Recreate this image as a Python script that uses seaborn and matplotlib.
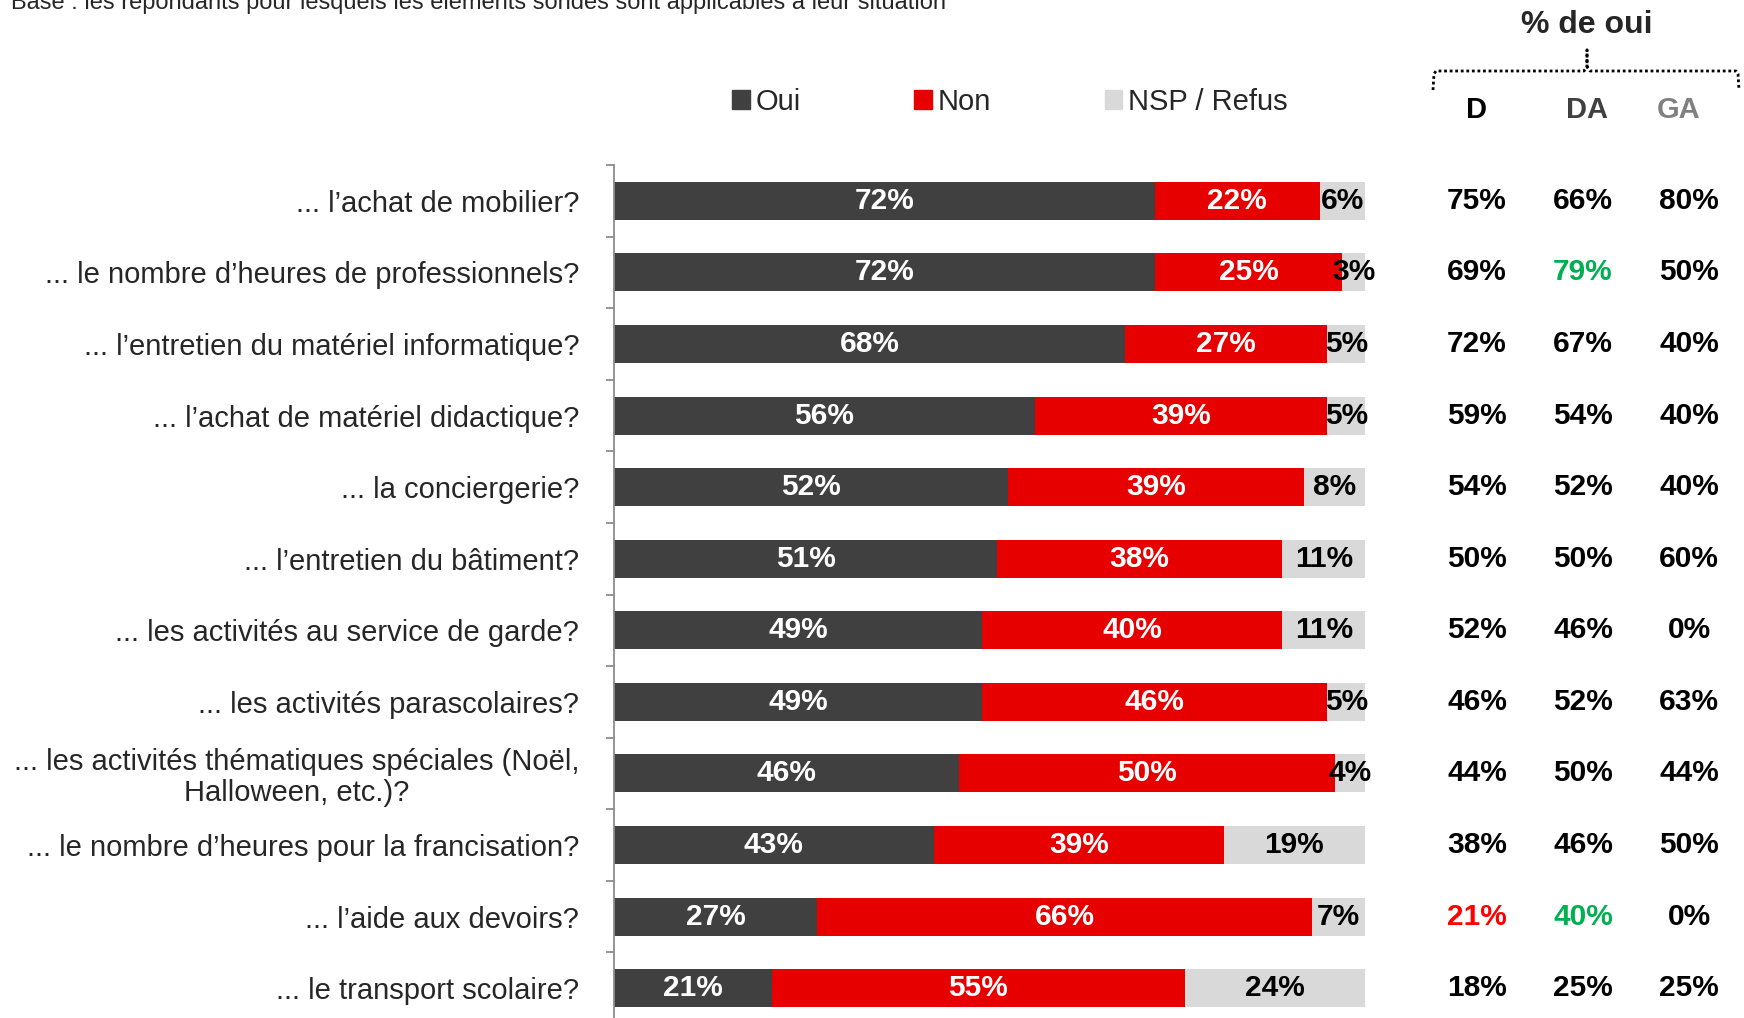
import numpy as np
import pandas as pd
import seaborn as sns
import matplotlib.pyplot as plt
from matplotlib.patches import Patch
from matplotlib.lines import Line2D
import matplotlib.transforms as mtransforms

# data
questions = [
    "... l\u2019achat de mobilier?",
    "... le nombre d\u2019heures de professionnels?",
    "... l\u2019entretien du mat\u00e9riel informatique?",
    "... l\u2019achat de mat\u00e9riel didactique?",
    "... la conciergerie?",
    "... l\u2019entretien du b\u00e2timent?",
    "... les activit\u00e9s au service de garde?",
    "... les activit\u00e9s parascolaires?",
    "... les activit\u00e9s th\u00e9matiques sp\u00e9ciales (No\u00ebl,\nHalloween, etc.)?",
    "... le nombre d\u2019heures pour la francisation?",
    "... l\u2019aide aux devoirs?",
    "... le transport scolaire?",
]
oui = [72, 72, 68, 56, 52, 51, 49, 49, 46, 43, 27, 21]
non = [22, 25, 27, 39, 39, 38, 40, 46, 50, 39, 66, 55]
nsp = [6, 3, 5, 5, 8, 11, 11, 5, 4, 19, 7, 24]
col_d = [75, 69, 72, 59, 54, 50, 52, 46, 44, 38, 21, 18]
col_da = [66, 79, 67, 54, 52, 50, 46, 52, 50, 46, 40, 25]
col_ga = [80, 50, 40, 40, 40, 60, 0, 63, 44, 50, 0, 25]

C_OUI = "#404040"
C_NON = "#E60000"
C_NSP = "#D9D9D9"
GREEN = "#00B050"
RED = "#FF0000"
# highlighted cells in the right-hand table: (row, column) -> colour
highlight = {(1, 1): GREEN, (10, 0): RED, (10, 1): GREEN}

df = pd.DataFrame({"q": questions, "oui": oui, "non": non, "nsp": nsp})
tot = df[["oui", "non", "nsp"]].sum(axis=1)
# 100% stacked bars
df["p_oui"] = df["oui"] / tot * 100
df["p_non"] = df["non"] / tot * 100
df["p_nsp"] = df["nsp"] / tot * 100
df["c1"] = df["p_oui"]
df["c2"] = df["p_oui"] + df["p_non"]
df["c3"] = df["c2"] + df["p_nsp"]

W, H = 1744, 1018
fig = plt.figure(figsize=(W / 100, H / 100), dpi=100)
sns.set_style("white")
plt.rcParams["font.family"] = ["Liberation Sans", "DejaVu Sans"]

ax = fig.add_axes([614 / W, -6 / H, 751 / W, (1024 - 165) / H])

bw = 0.53
sns.barplot(data=df, x="c3", y="q", color=C_NSP, width=bw, linewidth=0,
            saturation=1, ax=ax, orient="h")
sns.barplot(data=df, x="c2", y="q", color=C_NON, width=bw, linewidth=0,
            saturation=1, ax=ax, orient="h")
sns.barplot(data=df, x="c1", y="q", color=C_OUI, width=bw, linewidth=0,
            saturation=1, ax=ax, orient="h")

ax.set_xlim(0, 100)
ax.set_ylim(11.5, -0.5)
ax.set_xlabel("")
ax.set_ylabel("")
ax.set_xticks([])
for s in ["top", "right", "bottom"]:
    ax.spines[s].set_visible(False)
ax.spines["left"].set_color("#8C8C8C")
ax.spines["left"].set_linewidth(1.3)
ax.set_yticks(range(len(questions)))
ax.set_yticklabels(questions, fontsize=21, linespacing=1.1)
ax.set_yticks(np.arange(-0.5, len(questions), 1), minor=True)
ax.tick_params(axis="y", which="major", left=False, length=0, pad=25)
ax.tick_params(axis="y", which="minor", left=True, length=6, width=1.3,
               color="#8C8C8C", direction="out")
for lbl in ax.get_yticklabels():
    lbl.set_multialignment("center")

# labels inside bars
fs = 21.5
for i, r in df.iterrows():
    ax.text(r["p_oui"] / 2, i, f"{r['oui']}%", ha="center", va="center",
            color="white", fontsize=fs, fontweight="bold")
    ax.text(r["c1"] + r["p_non"] / 2, i, f"{r['non']}%", ha="center", va="center",
            color="white", fontsize=fs, fontweight="bold")
    ax.text(r["c2"] + r["p_nsp"] / 2, i, f"{r['nsp']}%", ha="center", va="center",
            color="black", fontsize=fs, fontweight="bold")

# right-hand table
tr = mtransforms.blended_transform_factory(fig.transFigure, ax.transData)
col_x = [1477 / W, 1583 / W, 1689 / W]
for j, vals in enumerate([col_d, col_da, col_ga]):
    for i, v in enumerate(vals):
        ax.text(col_x[j], i, f"{v}%", transform=tr, ha="center", va="center",
                fontsize=fs, fontweight="bold", color=highlight.get((i, j), "black"),
                clip_on=False)

fig.text(1587 / W, 1 - 25 / H, "% de oui", ha="center", va="center",
         fontsize=23, fontweight="bold")
for x, t, c in zip([1476, 1587, 1679], ["D", "DA", "GA"], ["black", "#404040", "#808080"]):
    fig.text(x / W, 1 - 110 / H, t, ha="center", va="center", fontsize=21,
             fontweight="bold", color=c)

# dotted brace
bx = np.array([1433, 1434, 1436, 1584, 1587, 1587, 1587, 1590, 1736, 1738, 1739]) / W
by = 1 - np.array([90, 74, 71, 71, 67, 50, 67, 71, 71, 74, 90]) / H
fig.add_artist(Line2D(bx, by, color="black", linestyle=(0, (1, 1)), linewidth=2,
                      transform=fig.transFigure))

# legend
handles = [Patch(color=C_OUI), Patch(color=C_NON), Patch(color=C_NSP)]
fig.legend(handles, ["Oui", "Non", "NSP / Refus"], loc="center",
           bbox_to_anchor=(1010 / W, 1 - 102 / H), ncol=3, frameon=False,
           fontsize=21, handlelength=0.6, handleheight=0.6, handletextpad=0.2,
           columnspacing=3.9)

fig.text(11 / W, 1 - 9 / H,
         "Base : les r\u00e9pondants pour lesquels les \u00e9l\u00e9ments sond\u00e9s sont applicables \u00e0 leur situation",
         ha="left", va="baseline", fontsize=17)

plt.savefig("out.png", dpi=100)
